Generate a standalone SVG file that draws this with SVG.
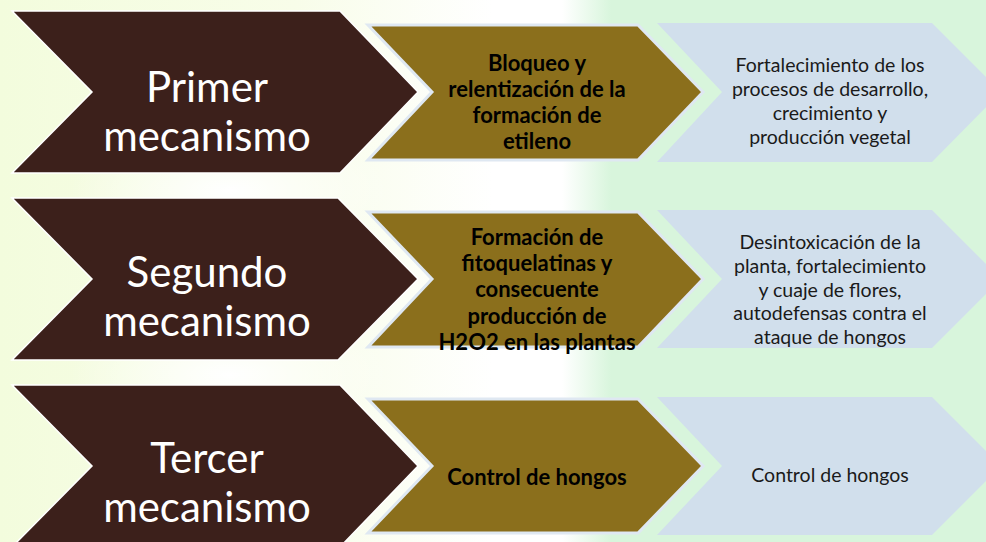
<svg xmlns="http://www.w3.org/2000/svg" width="986" height="542" viewBox="0 0 986 542">
  <defs>
    <linearGradient id="bg" x1="0" y1="0" x2="1" y2="0">
      <stop offset="0" stop-color="#f3fcdd"/>
      <stop offset="0.3" stop-color="#f8fde9"/>
      <stop offset="0.5" stop-color="#ffffff"/>
      <stop offset="0.57" stop-color="#ffffff"/>
      <stop offset="0.62" stop-color="#d8f5dc"/>
      <stop offset="1" stop-color="#d8f5dc"/>
    </linearGradient>
    <radialGradient id="glow" cx="0.5" cy="0.5" r="0.5">
      <stop offset="0" stop-color="#ffffff" stop-opacity="1"/>
      <stop offset="1" stop-color="#ffffff" stop-opacity="0"/>
    </radialGradient>
  </defs>
  <style>
    .dark { fill: #3c201b; stroke: #ffffff; stroke-width: 1.5; }
    .olive { fill: #8b6f1c; stroke: #dfe8f2; stroke-width: 3; }
    .blue { fill: #d1dfec; stroke: none; }
    .t1 { font-family: Lato, "Open Sans", sans-serif; font-size: 42px; fill: #ffffff; text-anchor: middle; }
    .t2 { font-family: Lato, "Open Sans", sans-serif; font-size: 22px; font-weight: bold; fill: #000000; text-anchor: middle; }
    .t3 { font-family: Lato, "Open Sans", sans-serif; font-size: 19.5px; fill: #1a1a1a; text-anchor: middle; }
  </style>
  <rect width="986" height="542" fill="url(#bg)"/>
  <ellipse cx="230" cy="190" rx="160" ry="60" fill="url(#glow)"/>
  <ellipse cx="230" cy="375" rx="160" ry="60" fill="url(#glow)"/>

  <g id="row1-mechanism">
    <path class="dark" d="M12,11 H340 L418,92 L340,173 H12 L92,92 Z"/>
    <text class="t1" x="207" y="102">Primer</text>
    <text class="t1" x="207" y="151">mecanismo</text>
  </g>
  <g id="row1-action">
    <path class="olive" d="M368,25 H638 L703,92 L638,160 H368 L432,92 Z"/>
    <text class="t2" x="537" y="71">Bloqueo y</text>
    <text class="t2" x="537" y="97">relentización de la</text>
    <text class="t2" x="537" y="123">formación de</text>
    <text class="t2" x="537" y="149">etileno</text>
  </g>
  <g id="row1-effect">
    <path class="blue" d="M657,23 H932 L1001,92 L932,162 H657 L722,92 Z"/>
    <text class="t3" x="830" y="72">Fortalecimiento de los</text>
    <text class="t3" x="830" y="96">procesos de desarrollo,</text>
    <text class="t3" x="830" y="120">crecimiento y</text>
    <text class="t3" x="830" y="144">producción vegetal</text>
  </g>

  <g id="row2-mechanism">
    <path class="dark" d="M12,198 H338 L418,279 L338,360 H12 L92,279 Z"/>
    <text class="t1" x="207" y="287">Segundo</text>
    <text class="t1" x="207" y="336">mecanismo</text>
  </g>
  <g id="row2-action">
    <path class="olive" d="M368,212 H638 L703,279 L638,347 H368 L432,279 Z"/>
    <text class="t2" x="537" y="245">Formación de</text>
    <text class="t2" x="537" y="271">fitoquelatinas y</text>
    <text class="t2" x="537" y="297">consecuente</text>
    <text class="t2" x="537" y="324">producción de</text>
    <text class="t2" x="537" y="350">H2O2 en las plantas</text>
  </g>
  <g id="row2-effect">
    <path class="blue" d="M657,210 H932 L1001,279 L932,348 H657 L722,279 Z"/>
    <text class="t3" x="830" y="249">Desintoxicación de la</text>
    <text class="t3" x="830" y="273">planta, fortalecimiento</text>
    <text class="t3" x="830" y="297">y cuaje de flores,</text>
    <text class="t3" x="830" y="320">autodefensas contra el</text>
    <text class="t3" x="830" y="344">ataque de hongos</text>
  </g>

  <g id="row3-mechanism">
    <path class="dark" d="M12,385 H340 L418,466 L340,547 H12 L92,466 Z"/>
    <text class="t1" x="207" y="473">Tercer</text>
    <text class="t1" x="207" y="522">mecanismo</text>
  </g>
  <g id="row3-action">
    <path class="olive" d="M368,399 H638 L703,466 L638,533 H368 L432,466 Z"/>
    <text class="t2" x="537" y="485">Control de hongos</text>
  </g>
  <g id="row3-effect">
    <path class="blue" d="M657,397 H932 L1001,466 L932,535 H657 L722,466 Z"/>
    <text class="t3" x="830" y="482">Control de hongos</text>
  </g>
  <g id="connectors"/>
</svg>
